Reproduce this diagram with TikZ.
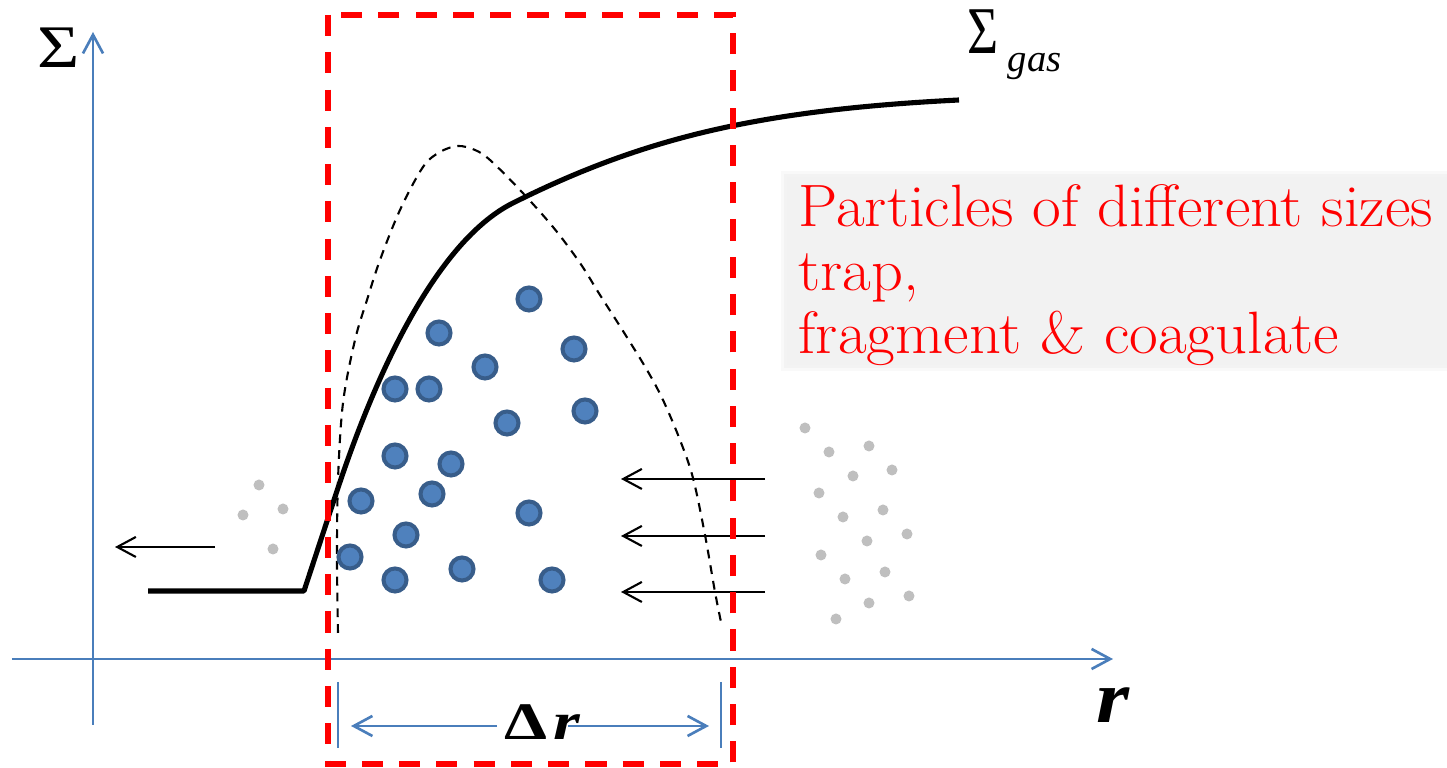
\documentclass[tikz,border=0pt]{standalone}
\usepackage{fontspec}
\usepackage{graphicx}
\usetikzlibrary{arrows.meta}
\newfontfamily\tms{Liberation Serif}
\definecolor{axisblue}{RGB}{74,126,187}
\definecolor{dotfill}{RGB}{79,129,189}
\definecolor{dotdraw}{RGB}{56,93,138}
\definecolor{graydot}{RGB}{191,191,191}
\definecolor{boxbg}{RGB}{242,242,242}
\begin{document}
\begin{tikzpicture}[x=0.01cm,y=-0.01cm,
  barb/.style={-{Straight Barb[length=5.3pt,width=5.7pt]}},
  axis/.style={draw=axisblue,line width=0.75pt,barb},
  flow/.style={draw=black,line width=0.6pt,barb},
  tick/.style={draw=axisblue,line width=0.75pt},
  bigdot/.style={circle,fill=dotfill,draw=dotdraw,line width=1.15pt,minimum size=0.23cm,inner sep=0pt},
  smalldot/.style={circle,fill=graydot,minimum size=0.11cm,inner sep=0pt},
  gas/.style={draw=black,line width=1.45pt,line join=round},
  profile/.style={draw=black,line width=0.6pt,dash pattern=on 2.5pt off 2pt},
  trapbox/.style={draw=red,line width=1.45pt,dash pattern=on 6pt off 4.6pt},
  redtext/.style={anchor=base west,inner sep=0pt,text=red,font=\fontsize{17}{19}\selectfont},
  label/.style={anchor=base west,inner sep=0pt}]
\useasboundingbox (0,0) rectangle (1447,768);

% text box background with soft shadow
\fill[black,opacity=0.025] (781,171) rectangle (1447,371);
\fill[black,opacity=0.025] (784,174) rectangle (1447,368);
\fill[boxbg] (787,177) rectangle (1447,365);
\node[redtext] (l1) at (798,227) {\scalebox{1.045}[1]{Particles of different sizes}};
\node[redtext] (l2) at (798,291) {\scalebox{1.045}[1]{trap,}};
\node[redtext] (l3) at (798,354) {\scalebox{1.045}[1]{fragment \& coagulate}};

% axes
\coordinate (yb) at (93,725);
\coordinate (yt) at (93,32);
\coordinate (xl) at (12,659);
\coordinate (xr) at (1113,659);
\draw[axis] (yb) -- (yt);
\draw[axis] (xl) -- (xr);

% gray small particles (right)
\foreach \i/\p in {1/{805,428},2/{829,452},3/{869,446},4/{853,476},5/{892,470},6/{819,493},7/{883,510},8/{843,517},9/{907,534},10/{867,541},11/{821,555},12/{885,572},13/{845,579},14/{909,596},15/{869,603},16/{836,619}}
  \node[smalldot] (gr\i) at (\p) {};
% gray small particles (left)
\foreach \i/\p in {1/{259,485},2/{243,515},3/{283,509},4/{273,549}}
  \node[smalldot] (gl\i) at (\p) {};

% flow arrows
\coordinate (a1s) at (765,479); \coordinate (a1e) at (621,479);
\coordinate (a2s) at (765,536); \coordinate (a2e) at (621,536);
\coordinate (a3s) at (765,592); \coordinate (a3e) at (621,592);
\coordinate (a4s) at (215,547); \coordinate (a4e) at (115,547);
\draw[flow] (a1s) -- (a1e);
\draw[flow] (a2s) -- (a2e);
\draw[flow] (a3s) -- (a3e);
\draw[flow] (a4s) -- (a4e);

% dust profile (dashed)
\draw[profile] plot[smooth,tension=0.55] coordinates {(338,633) (337,560) (338,480) (343,403) (355,340) (367,300) (380,260) (400,210) (423,167) (440,152) (458,146) (475,150) (490,160) (520,190) (553,227) (580,263) (600,295) (623,331) (647,370) (663,400) (680,440) (693,478) (705,535) (715,592) (721,622)};

% gas profile
\coordinate (g0) at (148,591);
\coordinate (g1) at (304,591);
\coordinate (g2) at (335,497);
\coordinate (g3) at (513,203);
\coordinate (g4) at (959,100);
\draw[gas] (g0) -- (g1) -- (g2)
  .. controls (381.5,354.5) and (443,238) .. (g3)
  .. controls (643,138) and (759,110) .. (g4);

% big particles
\foreach \i/\p in {1/{529,299},2/{439,333},3/{574,349},4/{485,367},5/{395,389},6/{429,389},7/{585,411},8/{507,423},9/{395,456},10/{451,464},11/{361,501},12/{432,494},13/{529,513},14/{406,535},15/{350,557},16/{462,569},17/{395,580},18/{552,580}}
  \node[bigdot] (p\i) at (\p) {};

% Delta r marker
\coordinate (t1a) at (338,682); \coordinate (t1b) at (338,748);
\coordinate (t2a) at (721,682); \coordinate (t2b) at (721,748);
\draw[tick] (t1a) -- (t1b);
\draw[tick] (t2a) -- (t2b);
\coordinate (d1s) at (497,726); \coordinate (d1e) at (351,726);
\coordinate (d2s) at (568,726); \coordinate (d2e) at (709,726);
\draw[axis] (d1s) -- (d1e);
\draw[axis] (d2s) -- (d2e);
\node[label] (dr) at (504,740) {\tms\fontsize{15}{15}\selectfont\scalebox{1.3}[1]{\bfseries Δ\kern1.2pt\itshape r}};

% trap box
\draw[trapbox] (328,15) rectangle (733,764);

% labels
\node[anchor=base,inner sep=0pt] (sig) at (59,68) {\tms\fontsize{17.2}{17}\selectfont\scalebox{1.2}[1]{Σ}};
\node[label] (sg) at (967,54) {\tms\fontsize{19}{19}\selectfont\scalebox{0.8}[1]{Σ}};
\node[label] (sgs) at (1007,72) {\tms\itshape\fontsize{11}{12}\selectfont gas};
\node[label] (rr) at (1096,723) {\tms\bfseries\itshape\fontsize{21}{21}\selectfont\scalebox{1.15}[1]{r}};
\end{tikzpicture}
\end{document}
